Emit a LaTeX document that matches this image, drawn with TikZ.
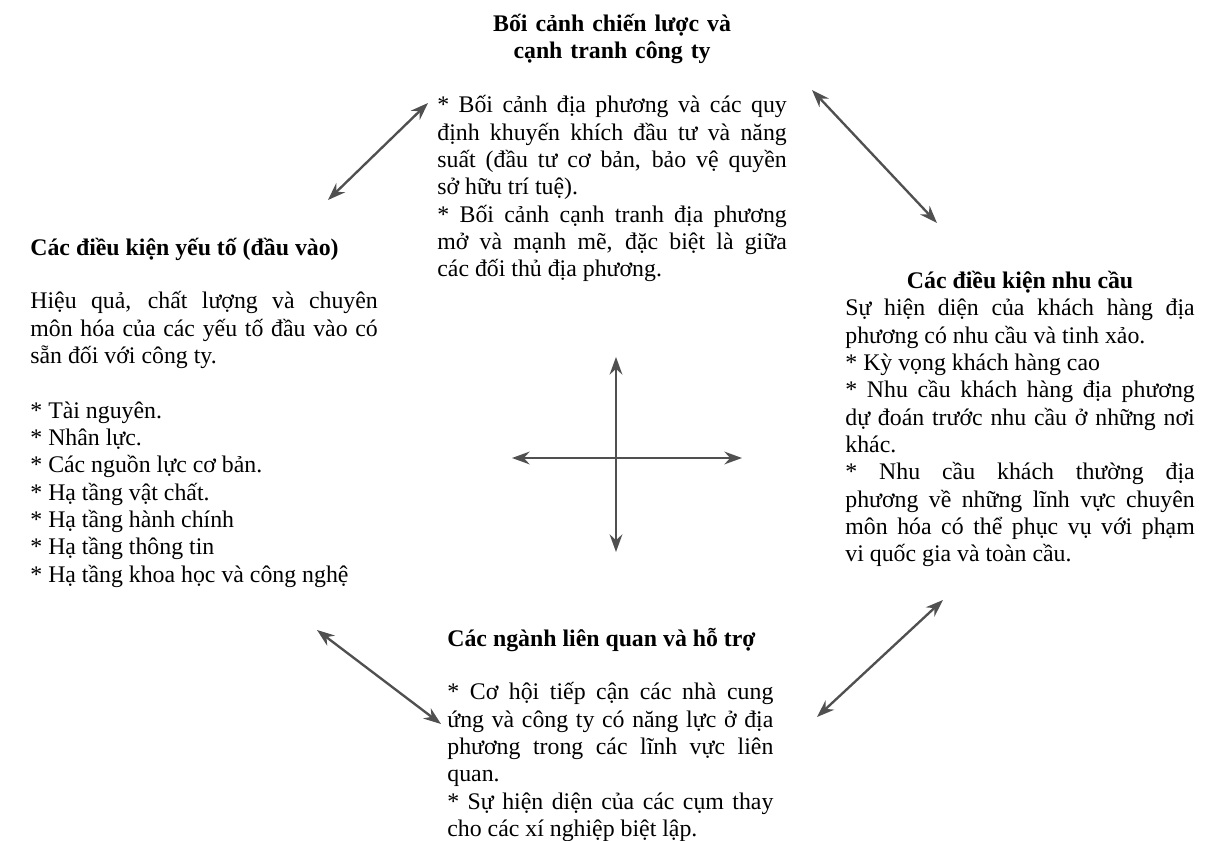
\documentclass[tikz,border=0pt]{standalone}
\usepackage{fontspec}
\setmainfont{Liberation Serif}
\usetikzlibrary{arrows.meta,positioning}
\definecolor{arrowgrey}{HTML}{505050}

\begin{document}
\begin{tikzpicture}[
      x=0.018cm, y=-0.018cm,
      head/.style={inner sep=0pt, font=\fontsize{12.2}{14}\selectfont\bfseries},
      body/.style={
        inner sep=0pt,
        text width=179pt,
        align=justify,
        font=\fontsize{12.2}{14}\selectfont
      },
      link/.style={{Stealth[length=9pt,width=6.5pt]}-{Stealth[length=9pt,width=6.5pt]},line width=1.2pt,draw=arrowgrey}
    ]
    \useasboundingbox (0,0) rectangle (1212,841);
    \fill[white] (0,0) rectangle (1212,841);

    % top block
    \node[body,anchor=base west] (strategy) at (437,113) {{*} Bối cảnh địa phương và các quy\linebreak định khuyến khích đầu tư và năng\linebreak suất (đầu tư cơ bản, bảo vệ quyền\linebreak sở hữu trí tuệ).\\ {*} Bối cảnh cạnh tranh địa phương\linebreak mở và mạnh mẽ, đặc biệt là giữa\linebreak các đối thủ địa phương.};
    \node[head,text width=179pt,align=center,above=42pt of strategy.base,anchor=base] (strategyhead) {Bối cảnh chiến lược và\\cạnh tranh công ty};

    % left block
    \node[body,text width=178pt,anchor=base west] (factor) at (30,309) {Hiệu quả, chất lượng và chuyên\linebreak môn hóa của các yếu tố đầu vào có\linebreak sẵn đối với công ty.\\[14pt] {*} Tài nguyên.\\ {*} Nhân lực.\\ {*} Các nguồn lực cơ bản.\\ {*} Hạ tầng vật chất.\\ {*} Hạ tầng hành chính\\ {*} Hạ tầng thông tin\\ {*} Hạ tầng khoa học và công nghệ};
    \node[head,above=27.5pt of factor.base west,anchor=base west] (factorhead) {Các điều kiện yếu tố (đầu vào)};

    % right block
    \node[body,anchor=base west] (demand) at (845,316) {Sự hiện diện của khách hàng địa\linebreak phương có nhu cầu và tinh xảo.\\ {*} Kỳ vọng khách hàng cao\\ {*} Nhu cầu khách hàng địa phương\linebreak dự đoán trước nhu cầu ở những nơi\linebreak khác.\\ {*} Nhu cầu khách thường địa\linebreak phương về những lĩnh vực chuyên\linebreak môn hóa có thể phục vụ với phạm\linebreak vi quốc gia và toàn cầu.};
    \node[head,above=14pt of demand.base,anchor=base] (demandhead) {Các điều kiện nhu cầu};

    % bottom block
    \node[body,text width=167pt,anchor=base west] (related) at (447,700) {{*} Cơ hội tiếp cận các nhà cung\linebreak ứng và công ty có năng lực ở địa\linebreak phương trong các lĩnh vực liên\linebreak quan.\\ {*} Sự hiện diện của các cụm thay\linebreak cho các xí nghiệp biệt lập.};
    \node[head,above=27.5pt of related.base west,anchor=base west] (relatedhead) {Các ngành liên quan và hỗ trợ};

    % arrow ends
    \coordinate (factorup) at (328,200);
    \coordinate (strategyleft) at (428,103);
    \coordinate (strategyright) at (812,90);
    \coordinate (demandup) at (937,223);
    \coordinate (demanddown) at (943,600);
    \coordinate (relatedright) at (817,717);
    \coordinate (relatedleft) at (441,724);
    \coordinate (factordown) at (317,630);
    \coordinate (crossN) at (616,357);
    \coordinate (crossS) at (616,552);
    \coordinate (crossW) at (512,458);
    \coordinate (crossE) at (742,458);

    \draw[link] (factorup) -- (strategyleft);
    \draw[link] (strategyright) -- (demandup);
    \draw[link] (demanddown) -- (relatedright);
    \draw[link] (relatedleft) -- (factordown);
    \draw[link] (crossN) -- (crossS);
    \draw[link] (crossW) -- (crossE);
  \end{tikzpicture}
\end{document}
